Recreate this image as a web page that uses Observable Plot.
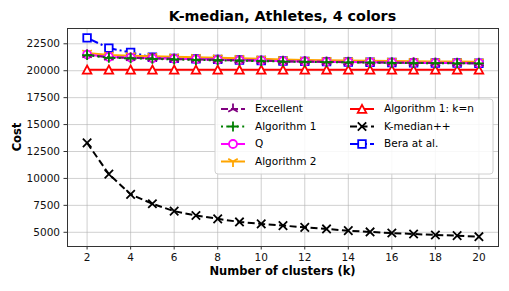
<!DOCTYPE html>
<html>
<head>
<meta charset="utf-8">
<script src="https://cdn.jsdelivr.net/npm/d3@7"></script>
<script src="https://cdn.jsdelivr.net/npm/@observablehq/plot@0.6"></script>
<style>
  html, body { margin: 0; padding: 0; background: white; }
  svg { display: block; }
</style>
</head>
<body>
<div id="chart"></div>
<script>
// ---- Data ----
const ks = [2, 3, 4, 5, 6, 7, 8, 9, 10, 11, 12, 13, 14, 15, 16, 17, 18, 19, 20];
const excellent  = [21480, 21250, 21200, 21150, 21080, 21050, 21000, 20960, 20930, 20870, 20850, 20820, 20790, 20770, 20750, 20730, 20720, 20700, 20690];
const algorithm1 = [21450, 21200, 21150, 21100, 21050, 21000, 20970, 20930, 20900, 20850, 20820, 20800, 20780, 20750, 20730, 20710, 20700, 20690, 20680];
const qValues    = [21500, 21280, 21220, 21160, 21100, 21060, 21010, 20970, 20940, 20890, 20860, 20830, 20800, 20780, 20760, 20740, 20730, 20710, 20700];
const algorithm2 = [21650, 21450, 21400, 21350, 21300, 21250, 21200, 21150, 21100, 21050, 21000, 20980, 20950, 20920, 20900, 20880, 20860, 20850, 20840];
const alg1kn     = [20100, 20100, 20100, 20100, 20100, 20100, 20100, 20100, 20100, 20100, 20100, 20100, 20100, 20100, 20100, 20100, 20100, 20100, 20100];
const kmedianpp  = [13300, 10400, 8520, 7650, 6960, 6560, 6250, 5960, 5780, 5620, 5460, 5310, 5150, 5030, 4930, 4840, 4750, 4690, 4590];
const bera       = [23050, 22100, 21700, 21250, 21150, 21100, 21050, 21000, 20950, 20900, 20870, 20840, 20810, 20780, 20760, 20740, 20720, 20710, 20700];

const xTicks = [2, 4, 6, 8, 10, 12, 14, 16, 18, 20];
const yTicks = [5000, 7500, 10000, 12500, 15000, 17500, 20000, 22500];

const titleText = "K-median, Athletes, 4 colors";
const xLabel = "Number of clusters (k)";
const yLabel = "Cost";

// ---- Custom marker symbols (matplotlib-like) ----
const sym = {
  triUp: { draw(c) { const R = 5.5; c.moveTo(0,0); c.lineTo(0,-R); c.moveTo(0,0); c.lineTo(-0.866*R,0.5*R); c.moveTo(0,0); c.lineTo(0.866*R,0.5*R); } },
  triDown: { draw(c) { const R = 5.5; c.moveTo(0,0); c.lineTo(0,R); c.moveTo(0,0); c.lineTo(-0.866*R,-0.5*R); c.moveTo(0,0); c.lineTo(0.866*R,-0.5*R); } },
  plus: { draw(c) { const R = 5; c.moveTo(-R,0); c.lineTo(R,0); c.moveTo(0,-R); c.lineTo(0,R); } },
  times: { draw(c) { const R = 4.2; c.moveTo(-R,-R); c.lineTo(R,R); c.moveTo(-R,R); c.lineTo(R,-R); } },
  circle: { draw(c) { const R = 4; c.moveTo(R,0); c.arc(0,0,R,0,2*Math.PI); c.closePath(); } },
  square: { draw(c) { const R = 3.8; c.moveTo(-R,-R); c.lineTo(R,-R); c.lineTo(R,R); c.lineTo(-R,R); c.closePath(); } },
  triangle: { draw(c) { const R = 3.9; c.moveTo(0,-R*1.05); c.lineTo(R*1.1,R); c.lineTo(-R*1.1,R); c.closePath(); } }
};

// series definitions
const series = [
  { name: "Excellent",          values: excellent,  color: "purple",  dash: "7,3",       symbol: "triUp",    fill: "none"  },
  { name: "Algorithm 1",        values: algorithm1, color: "green",   dash: "2,3.3",     symbol: "plus",     fill: "none"  },
  { name: "Q",                  values: qValues,    color: "magenta", dash: null,        symbol: "circle",   fill: "white" },
  { name: "Algorithm 2",        values: algorithm2, color: "orange",  dash: null,        symbol: "triDown",  fill: "none"  },
  { name: "Algorithm 1: k=n",   values: alg1kn,     color: "red",     dash: null,        symbol: "triangle", fill: "white" },
  { name: "K-median++",         values: kmedianpp,  color: "black",   dash: "7,3.5",     symbol: "times",    fill: "none"  },
  { name: "Bera at al.",        values: bera,       color: "blue",    dash: "12,3,2,3",  symbol: "square",   fill: "white" }
];
const drawOrder = ["Algorithm 1: k=n", "K-median++", "Bera at al.", "Algorithm 2", "Q", "Excellent", "Algorithm 1"];

const seriesMarks = [];
for (const name of drawOrder) {
  const s = series.find(d => d.name === name);
  const rows = ks.map((k, i) => ({ k, v: s.values[i] }));
  seriesMarks.push(Plot.line(rows, { x: "k", y: "v", stroke: s.color, strokeWidth: 2, strokeDasharray: s.dash || undefined, strokeLinecap: "butt" }));
  seriesMarks.push(Plot.dot(rows, { x: "k", y: "v", symbol: sym[s.symbol], r: 4, stroke: s.color, strokeWidth: 1.8, fill: s.fill }));
}

const W = 509, H = 291;
const chart = Plot.plot({
  width: W, height: H,
  marginLeft: 67, marginRight: 11, marginTop: 28, marginBottom: 45,
  style: { fontFamily: "DejaVu Sans", fontSize: "10.5px", background: "white", color: "#111", overflow: "visible" },
  x: { domain: [1.1, 20.9] },
  y: { domain: [3680, 23920] },
  marks: [
    Plot.gridX(xTicks, { stroke: "#b0b0b0", strokeOpacity: 0.6, strokeWidth: 1 }),
    Plot.gridY(yTicks, { stroke: "#b0b0b0", strokeOpacity: 0.6, strokeWidth: 1 }),
    ...seriesMarks,
    Plot.axisX(xTicks, { tickSize: 3.5, tickPadding: 4, tickFormat: d => String(d), label: null, stroke: "#333", fontSize: 10.5 }),
    Plot.axisY(yTicks, { tickSize: 3.5, tickPadding: 4, tickFormat: d => String(d), label: null, stroke: "#333", fontSize: 10.5 }),
    Plot.frame({ stroke: "#333", strokeWidth: 1 })
  ]
});
document.getElementById("chart").appendChild(chart);

// ---- Title, axis labels, legend ----
const svg = d3.select(chart);
svg.append("text").attr("x", 282.5).attr("y", 17).attr("text-anchor", "middle").attr("dominant-baseline", "middle")
  .attr("font-family", "DejaVu Sans").attr("font-weight", "bold").attr("font-size", 14.3).attr("fill", "black").text(titleText);
svg.append("text").attr("x", 282.5).attr("y", 271).attr("text-anchor", "middle").attr("dominant-baseline", "middle")
  .attr("font-family", "DejaVu Sans").attr("font-weight", "bold").attr("font-size", 11.5).attr("fill", "black").text(xLabel);
svg.append("text").attr("transform", "translate(17,137) rotate(-90)").attr("text-anchor", "middle").attr("dominant-baseline", "middle")
  .attr("font-family", "DejaVu Sans").attr("font-weight", "bold").attr("font-size", 11.5).attr("fill", "black").text(yLabel);

const lg = svg.append("g").attr("text-anchor", "start");
lg.append("rect").attr("x", 215).attr("y", 99).attr("width", 278).attr("height", 75).attr("rx", 3)
  .attr("fill", "white").attr("fill-opacity", 0.85).attr("stroke", "#d0d0d0").attr("stroke-width", 1);
const legendCols = [
  ["Excellent", "Algorithm 1", "Q", "Algorithm 2"],
  ["Algorithm 1: k=n", "K-median++", "Bera at al."]
];
const colX = [221, 350];
const rowY = [109, 126.5, 144, 161.5];
legendCols.forEach((col, ci) => {
  col.forEach((name, ri) => {
    const s = series.find(d => d.name === name);
    const x0 = colX[ci], y0 = rowY[ri];
    lg.append("line").attr("x1", x0).attr("x2", x0 + 24).attr("y1", y0).attr("y2", y0)
      .attr("stroke", s.color).attr("stroke-width", 2).attr("stroke-dasharray", s.dash || null);
    lg.append("path").attr("transform", `translate(${x0 + 12},${y0})`).attr("d", d3.symbol(sym[s.symbol])())
      .attr("stroke", s.color).attr("stroke-width", 1.8).attr("fill", s.fill);
    lg.append("text").attr("x", x0 + 34).attr("y", y0).attr("dominant-baseline", "middle").attr("text-anchor", "start")
      .attr("font-family", "DejaVu Sans").attr("font-size", 10.5).attr("fill", "black").text(name);
  });
});
</script>
</body>
</html>
